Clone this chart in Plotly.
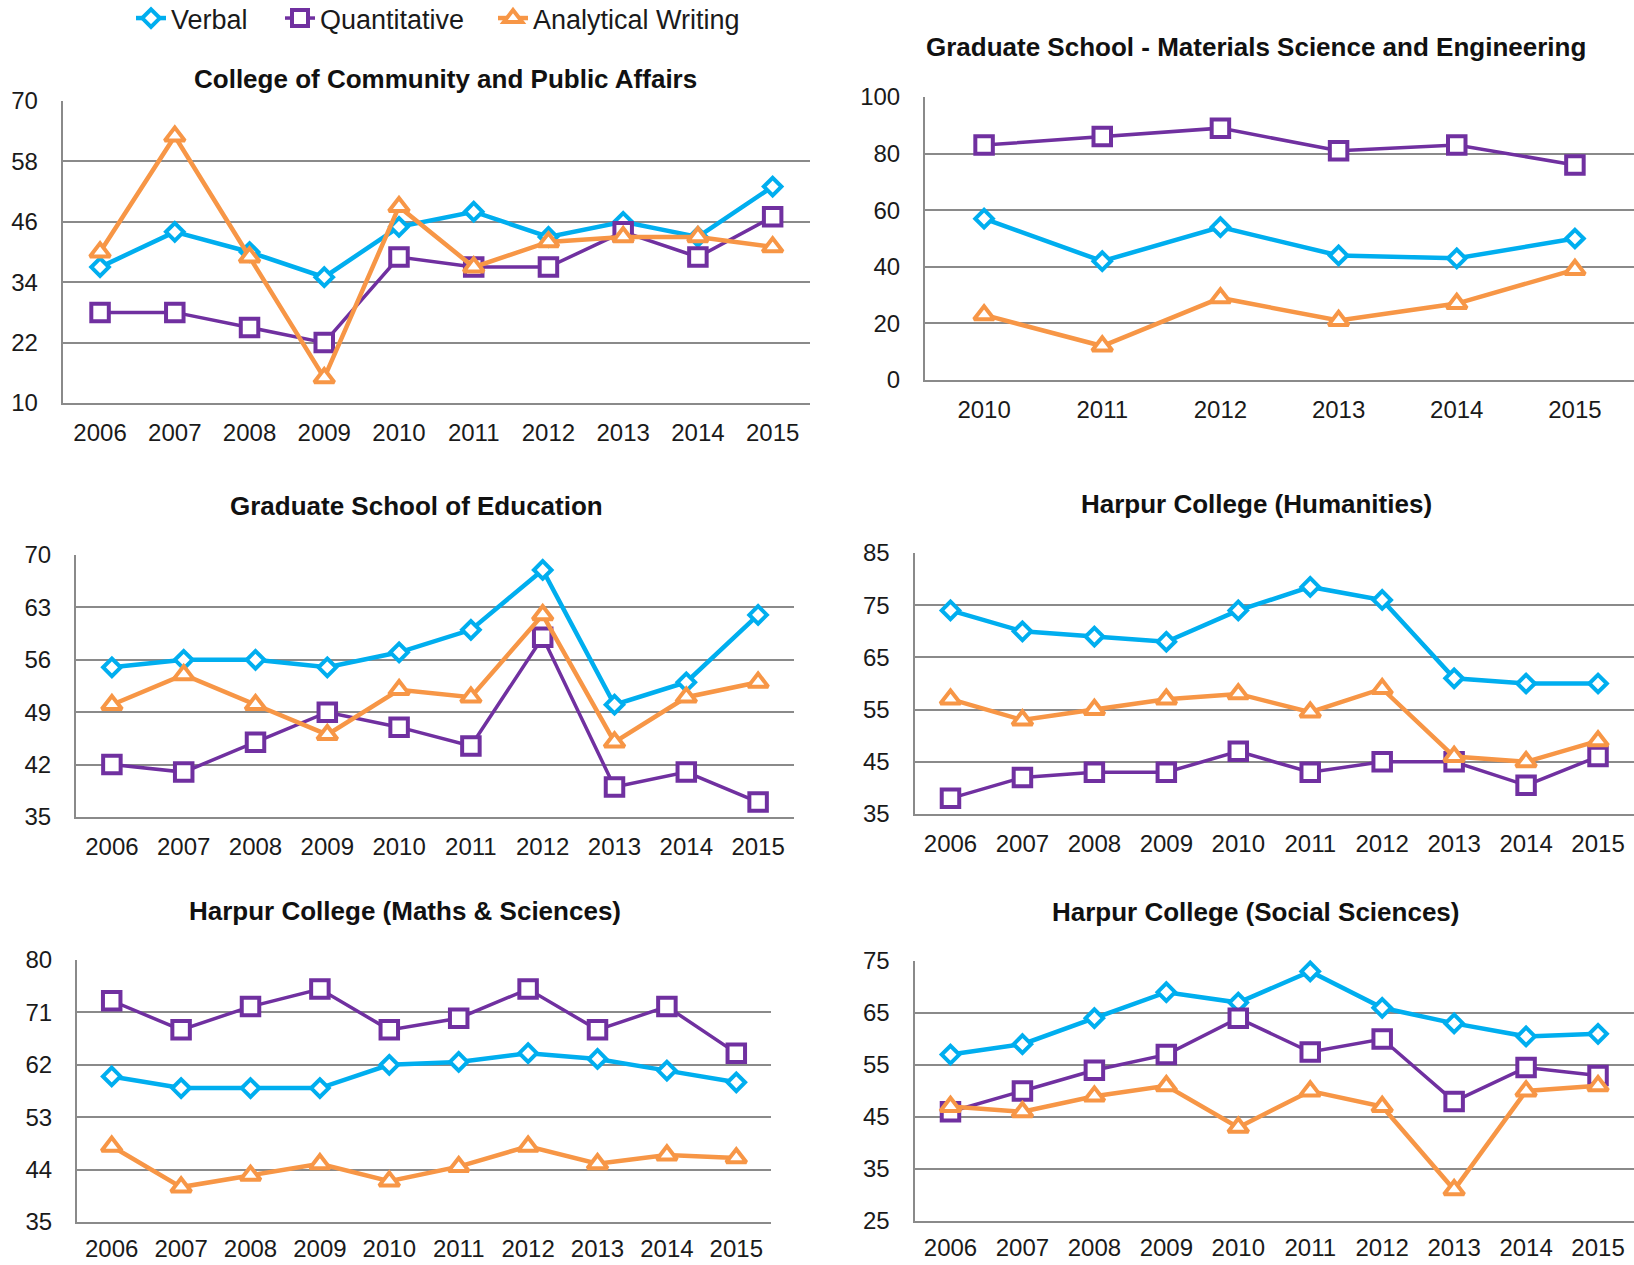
import plotly.graph_objects as go

W, H = 1634, 1265

# ---------------- data ----------------
years_10 = ["2006", "2007", "2008", "2009", "2010", "2011", "2012", "2013", "2014", "2015"]
years_6 = ["2010", "2011", "2012", "2013", "2014", "2015"]

series_names = ["Verbal", "Quantitative", "Analytical Writing"]

title_ccpa = "College of Community and Public Affairs"
verbal_ccpa = [37, 44, 40, 35, 45, 48, 43, 46, 43, 53]
quant_ccpa = [28, 28, 25, 22, 39, 37, 37, 44, 39, 47]
writing_ccpa = [40, 63, 39, 15, 49, 37, 42, 43, 43, 41]
ticks_ccpa = [10, 22, 34, 46, 58, 70]

title_mse = "Graduate School - Materials Science and Engineering"
verbal_mse = [57, 42, 54, 44, 43, 50]
quant_mse = [83, 86, 89, 81, 83, 76]
writing_mse = [23, 12, 29, 21, 27, 39]
ticks_mse = [0, 20, 40, 60, 80, 100]

title_edu = "Graduate School of Education"
verbal_edu = [55, 56, 56, 55, 57, 60, 68, 50, 53, 62]
quant_edu = [42, 41, 45, 49, 47, 44.5, 59, 39, 41, 37]
writing_edu = [50, 54, 50, 46, 52, 51, 62, 45, 51, 53]
ticks_edu = [35, 42, 49, 56, 63, 70]

title_hum = "Harpur College (Humanities)"
verbal_hum = [74, 70, 69, 68, 74, 78.5, 76, 61, 60, 60]
quant_hum = [38, 42, 43, 43, 47, 43, 45, 45, 40.5, 46]
writing_hum = [57, 53, 55, 57, 58, 54.5, 59, 46, 45, 49]
ticks_hum = [35, 45, 55, 65, 75, 85]

title_ms = "Harpur College (Maths & Sciences)"
verbal_ms = [60, 58, 58, 58, 62, 62.5, 64, 63, 61, 59]
quant_ms = [73, 68, 72, 75, 68, 70, 75, 68, 72, 64]
writing_ms = [48, 41, 43, 45, 42, 44.5, 48, 45, 46.5, 46]
ticks_ms = [35, 44, 53, 62, 71, 80]

title_ss = "Harpur College (Social Sciences)"
verbal_ss = [57, 59, 64, 69, 67, 73, 66, 63, 60.5, 61]
quant_ss = [46, 50, 54, 57, 64, 57.5, 60, 48, 54.5, 53]
writing_ss = [47, 46, 49, 51, 43, 50, 47, 31, 50, 51]
ticks_ss = [25, 35, 45, 55, 65, 75]

# ---------------- styles ----------------
C_VERBAL = "#00AEEF"
C_QUANT = "#7030A0"
C_WRITE = "#F79646"
GRID = "#8A8A8A"
FONT = "Liberation Sans, Arial, sans-serif"

styles = [
    dict(color=C_VERBAL, symbol="diamond", size=13.5, lw=4.5),
    dict(color=C_QUANT, symbol="square", size=17.5, lw=3.5),
    dict(color=C_WRITE, symbol="triangle-up", size=17.5, lw=4.5),
]
legend_ids = ["legend", "legend2", "legend3"]
legend_x = [131, 280, 493]

# panel layout in pixels: (x0, x1, ytop, ybottom, title_cx, title_cy, xlabel_standoff)
panels = [
    (years_10, [verbal_ccpa, quant_ccpa, writing_ccpa], ticks_ccpa, title_ccpa,
     (62.7, 810, 101, 403, 445, 79, 7)),
    (years_6, [verbal_mse, quant_mse, writing_mse], ticks_mse, title_mse,
     (925, 1634, 97, 380, 1256, 47, 7)),
    (years_10, [verbal_edu, quant_edu, writing_edu], ticks_edu, title_edu,
     (76, 794, 555, 817, 416, 506, 7)),
    (years_10, [verbal_hum, quant_hum, writing_hum], ticks_hum, title_hum,
     (914.5, 1634, 553, 814, 1256, 504, 7)),
    (years_10, [verbal_ms, quant_ms, writing_ms], ticks_ms, title_ms,
     (77, 771, 960, 1222, 405, 911, 4)),
    (years_10, [verbal_ss, quant_ss, writing_ss], ticks_ss, title_ss,
     (914.5, 1634, 961, 1221, 1255, 912, 4)),
]

fig = go.Figure()
annotations = []

for i, (cats, data, ticks, title, geo) in enumerate(panels):
    n = i + 1
    x0, x1, yt, yb, tcx, tcy, xso = geo
    xa = "x" if n == 1 else f"x{n}"
    ya = "y" if n == 1 else f"y{n}"
    for k, (name, vals) in enumerate(zip(series_names, data)):
        st = styles[k]
        fig.add_trace(go.Scatter(
            x=cats, y=vals, name=name, mode="lines+markers",
            xaxis=xa, yaxis=ya, showlegend=(n == 1), legend=legend_ids[k],
            cliponaxis=False,
            line=dict(color=st["color"], width=st["lw"]),
            marker=dict(symbol=st["symbol"], size=st["size"], color="white",
                        line=dict(color=st["color"], width=4)),
        ))
    xkey = "xaxis" if n == 1 else f"xaxis{n}"
    ykey = "yaxis" if n == 1 else f"yaxis{n}"
    fig.update_layout(**{
        xkey: dict(
            domain=[x0 / W, min(x1 / W, 1.0)], anchor=ya, type="category",
            range=[-0.5, len(cats) - 0.5], showgrid=False, zeroline=False,
            showline=True, linecolor=GRID, linewidth=2, automargin=False,
            ticks="", ticklabelstandoff=xso,
            tickfont=dict(family=FONT, size=24, color="#1a1a1a"),
        ),
        ykey: dict(
            domain=[(H - yb) / H, (H - yt) / H], anchor=xa, automargin=False,
            range=[ticks[0], ticks[-1]], tickvals=ticks, ticktext=[str(t) for t in ticks],
            showgrid=True, gridcolor=GRID, gridwidth=2, zeroline=False,
            showline=True, linecolor=GRID, linewidth=2,
            ticks="", ticklabelstandoff=18,
            tickfont=dict(family=FONT, size=24, color="#1a1a1a"),
        ),
    })
    annotations.append(dict(
        text=title, x=tcx / W, y=(H - tcy) / H, xref="paper", yref="paper",
        xanchor="center", yanchor="middle", showarrow=False,
        font=dict(family=FONT, size=26, color="#111111", weight="bold"),
    ))

legend_style = dict(orientation="h", y=1.0 + 6 / H, xanchor="left", yanchor="top",
                    font=dict(family=FONT, size=27, color="#1a1a1a"),
                    bgcolor="rgba(0,0,0,0)", itemwidth=30)
fig.update_layout(
    width=W, height=H, margin=dict(l=0, r=0, t=0, b=0, autoexpand=False),
    paper_bgcolor="white", plot_bgcolor="white",
    annotations=annotations,
    showlegend=True,
    legend=dict(x=legend_x[0] / W, **legend_style),
    legend2=dict(x=legend_x[1] / W, **legend_style),
    legend3=dict(x=legend_x[2] / W, **legend_style),
    font=dict(family=FONT),
)

fig.write_html("out.html", config={"displayModeBar": False},
               post_script="document.body.style.margin='0';document.body.style.overflow='hidden';")
